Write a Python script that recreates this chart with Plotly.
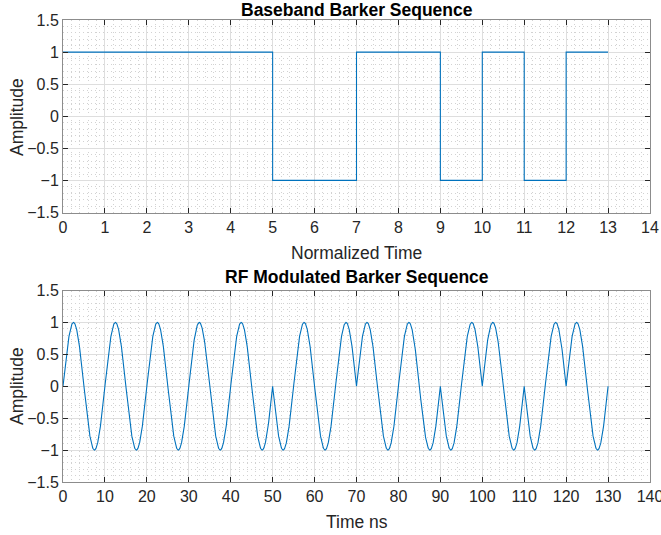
import numpy as np
import plotly.graph_objects as go

# Data
barker = [1, 1, 1, 1, 1, -1, -1, 1, 1, -1, 1, -1, 1]   # Barker-13 chips
chip_time = list(range(len(barker) + 1))                  # normalized time 0..13
chip_vals = barker + [barker[-1]]
chip_ns = 10.0          # chip duration, ns
carrier_ghz = 0.1       # carrier frequency (1 cycle per chip)
samples_per_chip = 200

# RF modulated signal derived from the Barker chips
t_ns = np.linspace(0, len(barker) * chip_ns, len(barker) * samples_per_chip + 1)
idx = np.minimum((t_ns // chip_ns).astype(int), len(barker) - 1)
rf = np.sin(2 * np.pi * carrier_ghz * t_ns) * np.array(barker)[idx]

W, H = 661, 535
xl, xr = 63 / W, 650 / W
top_dom = [1 - 212.5 / H, 1 - 20 / H]
bot_dom = [1 - 482 / H, 1 - 290.5 / H]

line_color = "#0072BD"
font_family = "Liberation Sans, Arial, Helvetica, sans-serif"

fig = go.Figure()
fig.add_trace(go.Scatter(x=chip_time, y=chip_vals, mode="lines", line=dict(color=line_color, width=1.1, shape="hv"),
                         xaxis="x", yaxis="y", showlegend=False))
fig.add_trace(go.Scatter(x=t_ns, y=rf, mode="lines", line=dict(color=line_color, width=1.1),
                         xaxis="x2", yaxis="y2", showlegend=False))

axis_common = dict(
    showline=True, linecolor="#8C8C8C", linewidth=1, mirror="ticks",
    ticks="inside", ticklen=5, tickcolor="#262626",
    showgrid=True, gridcolor="#DEDEDE", gridwidth=1,
    zeroline=False, automargin=False, ticklabeloverflow="allow",
    tickfont=dict(family=font_family, size=16, color="#262626"),
)

def minor(dtick):
    return dict(dtick=dtick, showgrid=True, gridcolor="#D2D2D2", griddash="1px,3px", gridwidth=1, ticks="")

fig.update_layout(
    template="none",
    width=W, height=H, margin=dict(l=0, r=0, t=0, b=0, autoexpand=False),
    paper_bgcolor="white", plot_bgcolor="white",
    xaxis=dict(domain=[xl, xr], anchor="y", range=[0, 14], dtick=1, minor=minor(0.2), **axis_common),
    yaxis=dict(domain=top_dom, anchor="x", range=[-1.5, 1.5], dtick=0.5, minor=minor(0.1), **axis_common),
    xaxis2=dict(domain=[xl, xr], anchor="y2", range=[0, 140], dtick=10, minor=minor(2), **axis_common),
    yaxis2=dict(domain=bot_dom, anchor="x2", range=[-1.5, 1.5], dtick=0.5, minor=minor(0.1), **axis_common),
)

def ann(text, x, y, size=16, bold=False, angle=0):
    fig.add_annotation(text=f"<b>{text}</b>" if bold else text, x=x / W, y=1 - y / H,
                       xref="paper", yref="paper", showarrow=False, textangle=angle,
                       font=dict(family=font_family, size=size, color="#262626" if not bold else "black"),
                       xanchor="center", yanchor="middle")

ann("Baseband Barker Sequence", 357, 10, size=17.5, bold=True)
ann("Normalized Time", 357, 253, size=17.5)
ann("Amplitude", 17, 117, size=17.5, angle=-90)
ann("RF Modulated Barker Sequence", 357, 277, size=17.5, bold=True)
ann("Time ns", 357, 522, size=17.5)
ann("Amplitude", 17, 386, size=17.5, angle=-90)

fig.write_html("out.html")
